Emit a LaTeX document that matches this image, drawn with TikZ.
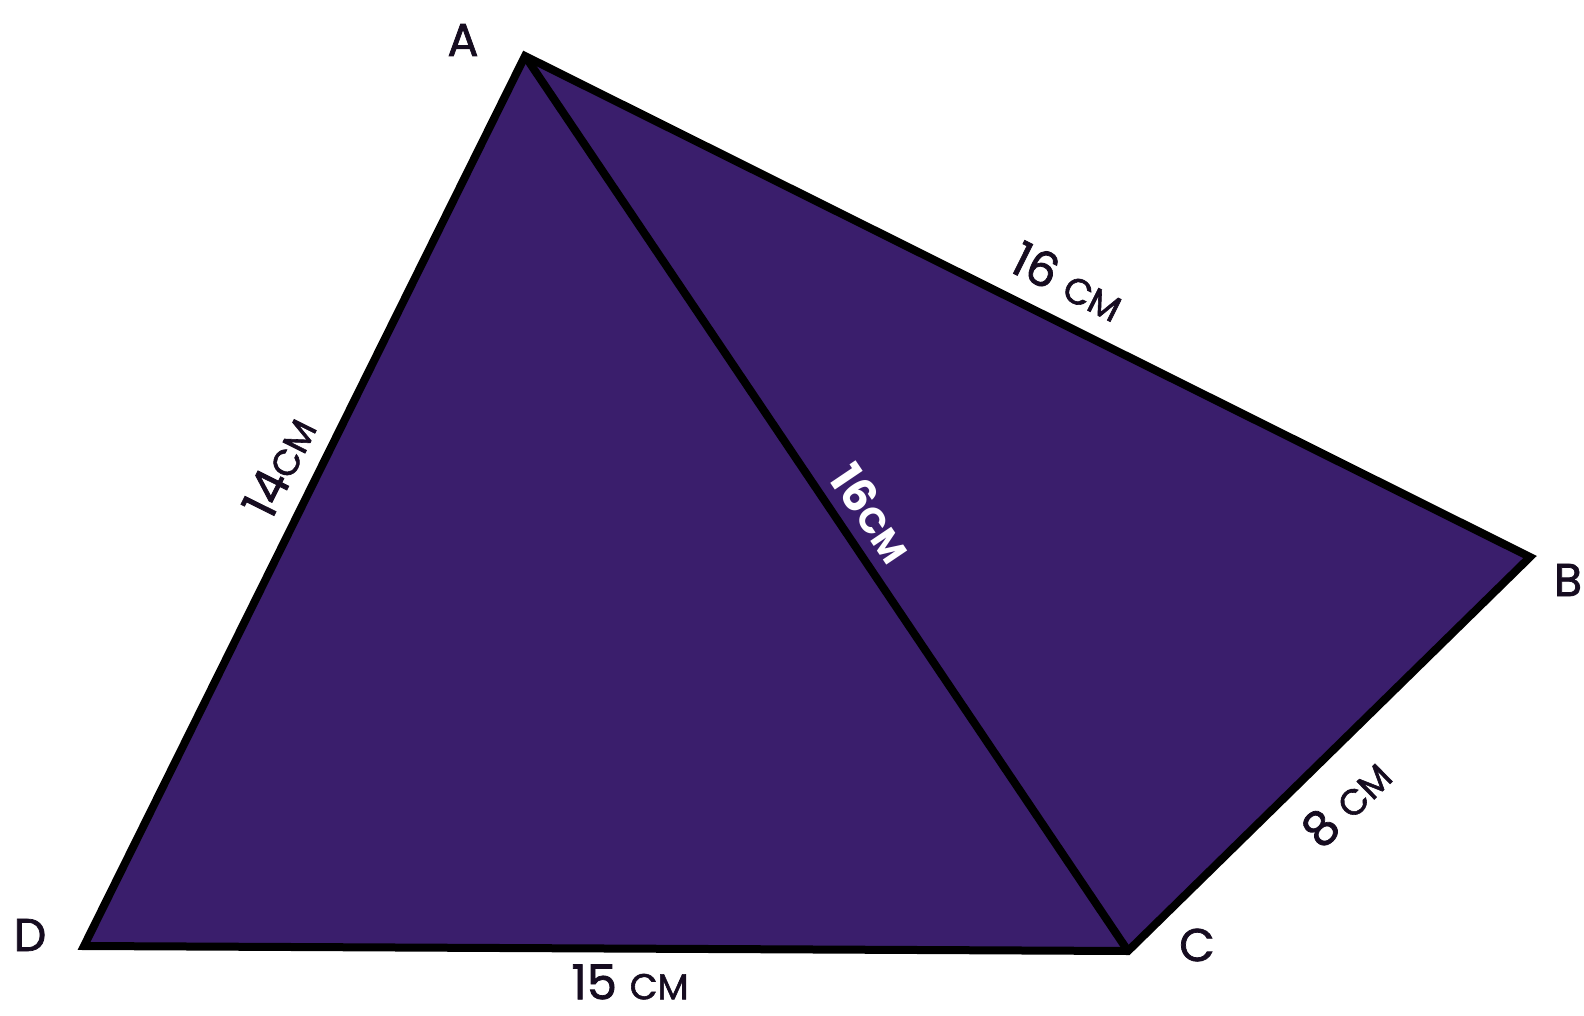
\documentclass[tikz,border=0pt]{standalone}
\usepackage{fontspec}
\setmainfont{Poppins}
\newfontfamily\medfont[FakeBold=1.6]{Poppins}
\definecolor{quadfill}{RGB}{58,30,108}
\definecolor{inkcol}{RGB}{22,12,32}
\newcommand{\smallcm}{{\fontsize{36}{40}\selectfont CM}}
\begin{document}
\begin{tikzpicture}[x=1pt,y=-1pt,
  edge/.style={draw=black,line width=8pt,line join=miter},
  vlabel/.style={text=inkcol,font=\medfont\fontsize{46}{50}\selectfont,inner sep=0pt},
  mlabel/.style={text=inkcol,font=\medfont\fontsize{48}{52}\selectfont,inner sep=0pt},
  wlabel/.style={text=white,font=\fontsize{46}{50}\selectfont\bfseries,inner sep=0pt}]
\useasboundingbox (0,0) rectangle (1584,1016);
\coordinate (A) at (525,56);
\coordinate (B) at (1530,557);
\coordinate (C) at (1128,951);
\coordinate (D) at (84,946);
\fill[quadfill] (A) -- (B) -- (C) -- (D) -- cycle;
\draw[edge] (A) -- (B) -- (C) -- (D) -- cycle;
\draw[edge] (A) -- (C);
\node[vlabel] (la) at (463,40) {A};
\node[vlabel] (lb) at (1568,580) {B};
\node[vlabel] (lc) at (1197,945) {C};
\node[vlabel] (ld) at (30,935) {D};
\node[mlabel,rotate=-26.5] (lab) at (1068,281) {16 \smallcm};
\node[wlabel,rotate=-56] (lac) at (872,513) {16\smallcm};
\node[mlabel,rotate=63.6] (lda) at (279,467) {14\smallcm};
\node[mlabel,rotate=44.4] (lcb) at (1346,803) {8 \smallcm};
\node[mlabel] (ldc) at (630,982) {15 \smallcm};
\end{tikzpicture}
\end{document}
